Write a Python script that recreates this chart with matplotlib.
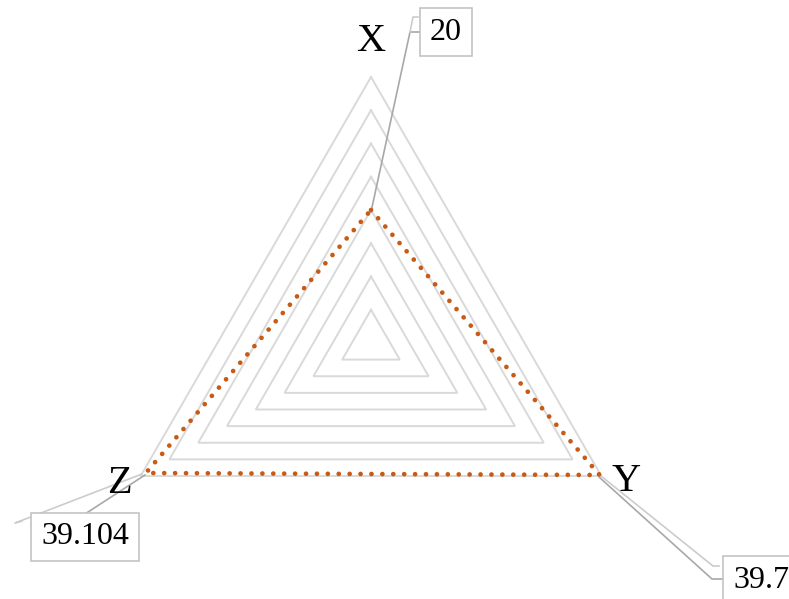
import numpy as np
import matplotlib
matplotlib.use("Agg")
import matplotlib.pyplot as plt

# ---- data ----
axes_names = ["X", "Y", "Z"]
values = [20, 39.7, 39.104]
value_labels = ["20", "39.7", "39.104"]
max_value = 40
n_levels = 8

W, H, DPI = 789, 599, 100
fig = plt.figure(figsize=(W / DPI, H / DPI), dpi=DPI)
ax = fig.add_axes([0, 0, 1, 1])
ax.set_axis_off()

# layout: centre pixel & radius in pixels
cx, cy, Rpx = 371, 343, 266
s = Rpx / max_value  # px per unit
ax.set_xlim(-cx / s, (W - cx) / s)
ax.set_ylim(-(H - cy) / s, cy / s)


def px(x, y):
    return ((x - cx) / s, (cy - y) / s)


angles = np.deg2rad([90, -30, 210])

# grid triangles
for k in range(1, n_levels + 1):
    r = max_value * k / n_levels
    xs = r * np.cos(angles)
    ys = r * np.sin(angles)
    ax.plot(np.append(xs, xs[0]), np.append(ys, ys[0]), color="#d9d9d9", lw=1.4,
            solid_joinstyle="miter", zorder=1)

# data polygon
v = np.array(values)
dx = v * np.cos(angles)
dy = v * np.sin(angles)
ax.plot(np.append(dx, dx[0]), np.append(dy, dy[0]), color="#c85a14", lw=3.4,
        linestyle=(0, (0.01, 2.3)), dash_capstyle="round", zorder=3)

serif = ["Liberation Serif", "DejaVu Serif"]

# axis labels
label_pos = {"X": (371, 42), "Y": (626, 482), "Z": (119, 484)}
for name in axes_names:
    x, y = px(*label_pos[name])
    ax.text(x, y, name, family=serif, fontsize=29, ha="center", va="center", color="black", zorder=5)

dark = "#a8a8a8"
light = "#cccccc"

# leader lines
# X
ax.plot(*zip(px(371, 212), px(410, 32), px(421, 32)), color=dark, lw=1.2, zorder=2)
ax.plot(*zip(px(410, 32), px(413, 17), px(418, 17)), color=light, lw=1.2, zorder=2)
# Y
ax.plot(*zip(px(601, 476), px(713, 566), px(719, 566)), color=light, lw=1.2, zorder=2)
ax.plot(*zip(px(599, 477), px(712, 579), px(724, 579)), color=dark, lw=1.2, zorder=2)
# Z
ax.plot(*zip(px(142, 474), px(15, 523), px(22, 521)), color=light, lw=1.2, zorder=2)
ax.plot(*zip(px(145, 475), px(85, 514)), color=dark, lw=1.2, zorder=2)

box = dict(boxstyle="square,pad=0.3", fc="white", ec="#c4c4c4", lw=1.2)
val_pos = {"X": (430, 32, "left"), "Y": (733, 580, "left"), "Z": (85, 537, "center")}
for name, lab in zip(axes_names, value_labels):
    x0, y0, ha = val_pos[name]
    x, y = px(x0, y0)
    ax.text(x, y, lab, family=serif, fontsize=23, ha=ha, va="center", color="black",
            bbox=box, zorder=6)

fig.savefig("out.png", dpi=DPI)
